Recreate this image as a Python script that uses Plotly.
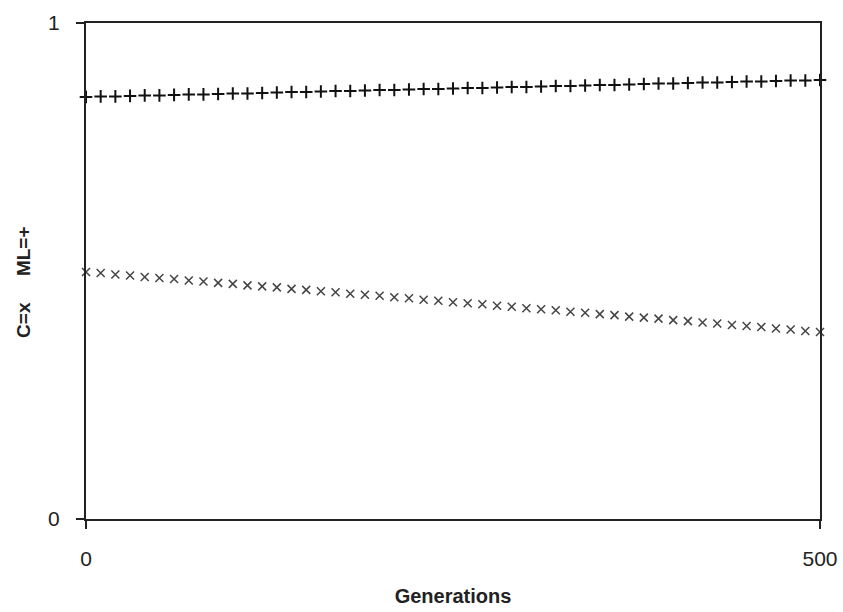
import plotly.graph_objects as go

generations = [i * 10 for i in range(51)]

ml_values = [0.851, 0.852, 0.852, 0.853, 0.854, 0.854, 0.855, 0.856, 0.856, 0.857,
             0.858, 0.858, 0.859, 0.860, 0.861, 0.861, 0.862, 0.863, 0.863, 0.864,
             0.865, 0.865, 0.866, 0.867, 0.867, 0.868, 0.869, 0.869, 0.870, 0.871,
             0.871, 0.872, 0.873, 0.873, 0.874, 0.875, 0.875, 0.876, 0.877, 0.878,
             0.878, 0.879, 0.880, 0.880, 0.881, 0.882, 0.882, 0.883, 0.884, 0.884,
             0.885]

c_values = [0.498, 0.496, 0.493, 0.491, 0.488, 0.486, 0.484, 0.481, 0.479, 0.476,
            0.474, 0.471, 0.469, 0.467, 0.464, 0.462, 0.459, 0.457, 0.454, 0.452,
            0.450, 0.447, 0.445, 0.442, 0.440, 0.437, 0.435, 0.433, 0.430, 0.428,
            0.425, 0.423, 0.421, 0.418, 0.416, 0.413, 0.411, 0.408, 0.406, 0.404,
            0.401, 0.399, 0.396, 0.394, 0.391, 0.389, 0.387, 0.384, 0.382, 0.379,
            0.377]

x_ticks = [0, 500]
x_tick_labels = ["0", "500"]
y_ticks = [0, 1]
y_tick_labels = ["0", "1"]

fig = go.Figure()
fig.add_trace(go.Scatter(
    x=generations, y=ml_values, mode="markers", name="ML",
    marker=dict(symbol="cross-thin", size=9, line=dict(width=2, color="#111")),
    cliponaxis=False,
))
fig.add_trace(go.Scatter(
    x=generations, y=c_values, mode="markers", name="C",
    marker=dict(symbol="x-thin", size=8, line=dict(width=1.5, color="#444")),
    cliponaxis=False,
))

font = "Liberation Sans, Arial, sans-serif"
fig.update_layout(
    width=843, height=612,
    margin=dict(l=86, r=23, t=23, b=93),
    paper_bgcolor="white", plot_bgcolor="white",
    showlegend=False,
    font=dict(family=font, size=21, color="#222"),
    xaxis=dict(
        range=[0, 500], tickvals=x_ticks, ticktext=x_tick_labels,
        showgrid=False, zeroline=False, automargin=False,
        showline=True, mirror=True, linecolor="#222", linewidth=2,
        ticks="outside", ticklen=8, tickwidth=2, tickcolor="#222",
        ticklabelstandoff=12,
        title=dict(text="<b>Generations</b>", font=dict(size=20), standoff=20),
    ),
    yaxis=dict(
        range=[0, 1], tickvals=y_ticks, ticktext=y_tick_labels,
        showgrid=False, zeroline=False, automargin=False,
        showline=True, mirror=True, linecolor="#222", linewidth=2,
        ticks="outside", ticklen=8, tickwidth=2, tickcolor="#222",
        ticklabelstandoff=12,
    ),
    annotations=[dict(
        text="<b>C=x     ML=+</b>", textangle=-90,
        xref="paper", yref="paper", x=-0.0845, y=0.478,
        xanchor="center", yanchor="middle", showarrow=False,
        font=dict(size=19, family=font, color="#222"),
    )],
)

fig.write_html(
    "out.html",
    config={"displayModeBar": False},
    post_script="document.body.style.margin='0';document.body.style.overflow='hidden';",
)
